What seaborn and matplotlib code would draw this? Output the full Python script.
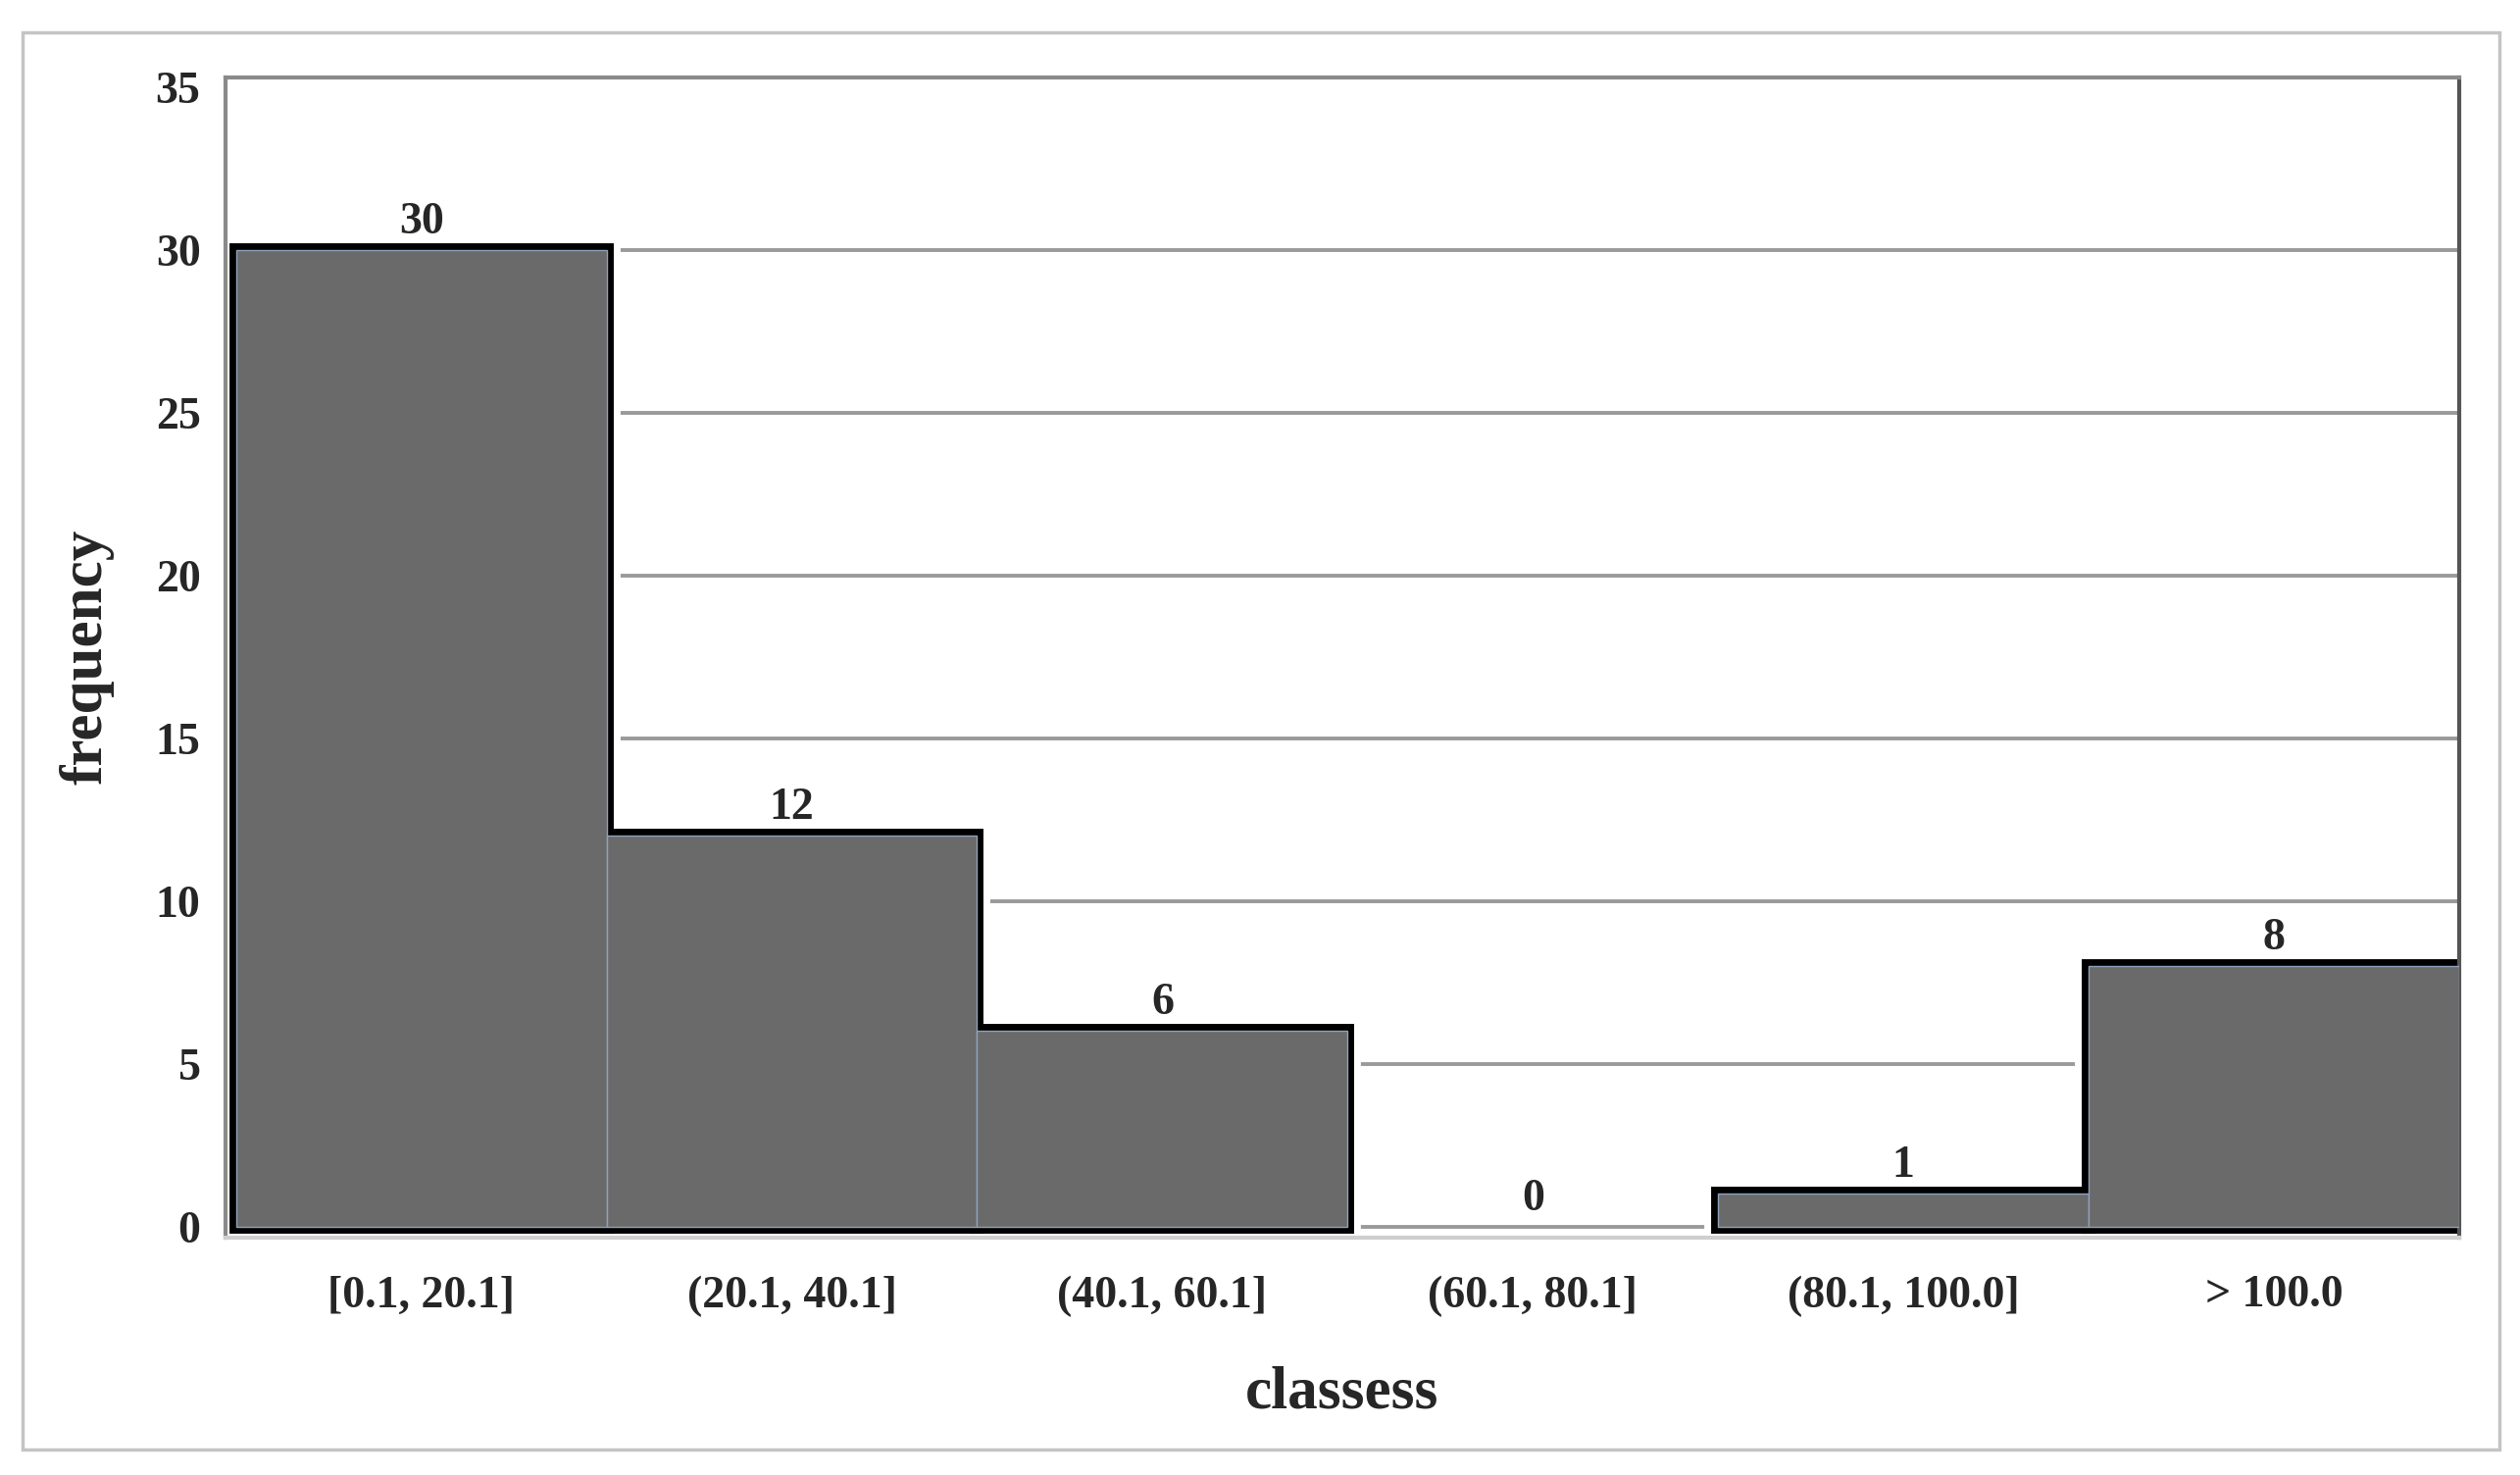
import matplotlib
matplotlib.use("Agg")
import pandas as pd
import seaborn as sns
import matplotlib.pyplot as plt
from matplotlib.patches import Rectangle

classes = ["[0.1, 20.1]", "(20.1, 40.1]", "(40.1, 60.1]", "(60.1, 80.1]", "(80.1, 100.0]", "> 100.0"]
frequency = [30, 12, 6, 0, 1, 8]
y_ticks = [0, 5, 10, 15, 20, 25, 30, 35]

df = pd.DataFrame({"classes": classes, "frequency": frequency})

sns.set_style("white")
plt.rcParams["font.family"] = ["Liberation Serif", "DejaVu Serif"]

fig = plt.figure(figsize=(25.7, 15.04), dpi=100)
ax = fig.add_axes([0.0893, 0.1612, 0.9758 - 0.0893, 0.9477 - 0.1612])

ax.set_axisbelow(True)
ax.yaxis.grid(True, color="#9a9a9a", linewidth=2.8)

# white halo so the grid lines stop short of the bars
sns.barplot(data=df, x="classes", y="frequency", color="white", width=1,
            edgecolor="white", linewidth=20, saturation=1, zorder=1, ax=ax)
# black outline layer (only the outer half stays visible)
sns.barplot(data=df, x="classes", y="frequency", color="black", width=1,
            edgecolor="black", linewidth=10, saturation=1, zorder=2, ax=ax)
# grey fill on top
sns.barplot(data=df, x="classes", y="frequency", color="#6a6a6a", width=1,
            edgecolor="#8ea2bb", linewidth=1, saturation=1, zorder=3, ax=ax)

for cont in ax.containers:
    for p in cont:
        if p.get_height() == 0:
            p.set_edgecolor("none")
            p.set_linewidth(0)

ax.bar_label(ax.containers[2], fmt="%d", padding=5, fontsize=33, fontweight="bold", zorder=4)

ax.set_xlim(-0.53, 5.5)
ax.set_ylim(-0.33, 35.3)
ax.set_yticks(y_ticks)
# the top spine already plays the role of the 35 line
ax.get_ygridlines()[-1].set_visible(False)
ax.tick_params(axis="both", length=0, labelsize=33)
ax.tick_params(axis="y", pad=18)
ax.tick_params(axis="x", pad=28)
for lab in ax.get_xticklabels() + ax.get_yticklabels():
    lab.set_fontweight("bold")

ax.set_ylabel("frequency", fontsize=44, fontweight="bold", labelpad=30)
ax.set_xlabel("classess", fontsize=44, fontweight="bold", labelpad=36)

ax.spines["left"].set_color("#8a8a8a")
ax.spines["top"].set_color("#8a8a8a")
ax.spines["right"].set_color("#555555")
ax.spines["bottom"].set_color("#cfcfcf")
for s in ax.spines.values():
    s.set_linewidth(3)

fig.patches.append(Rectangle((0.0089, 0.0174), 0.9828, 0.9606, transform=fig.transFigure,
                             fill=False, edgecolor="#c4c4c4", linewidth=2.5))

fig.savefig("out.png", dpi=100)
